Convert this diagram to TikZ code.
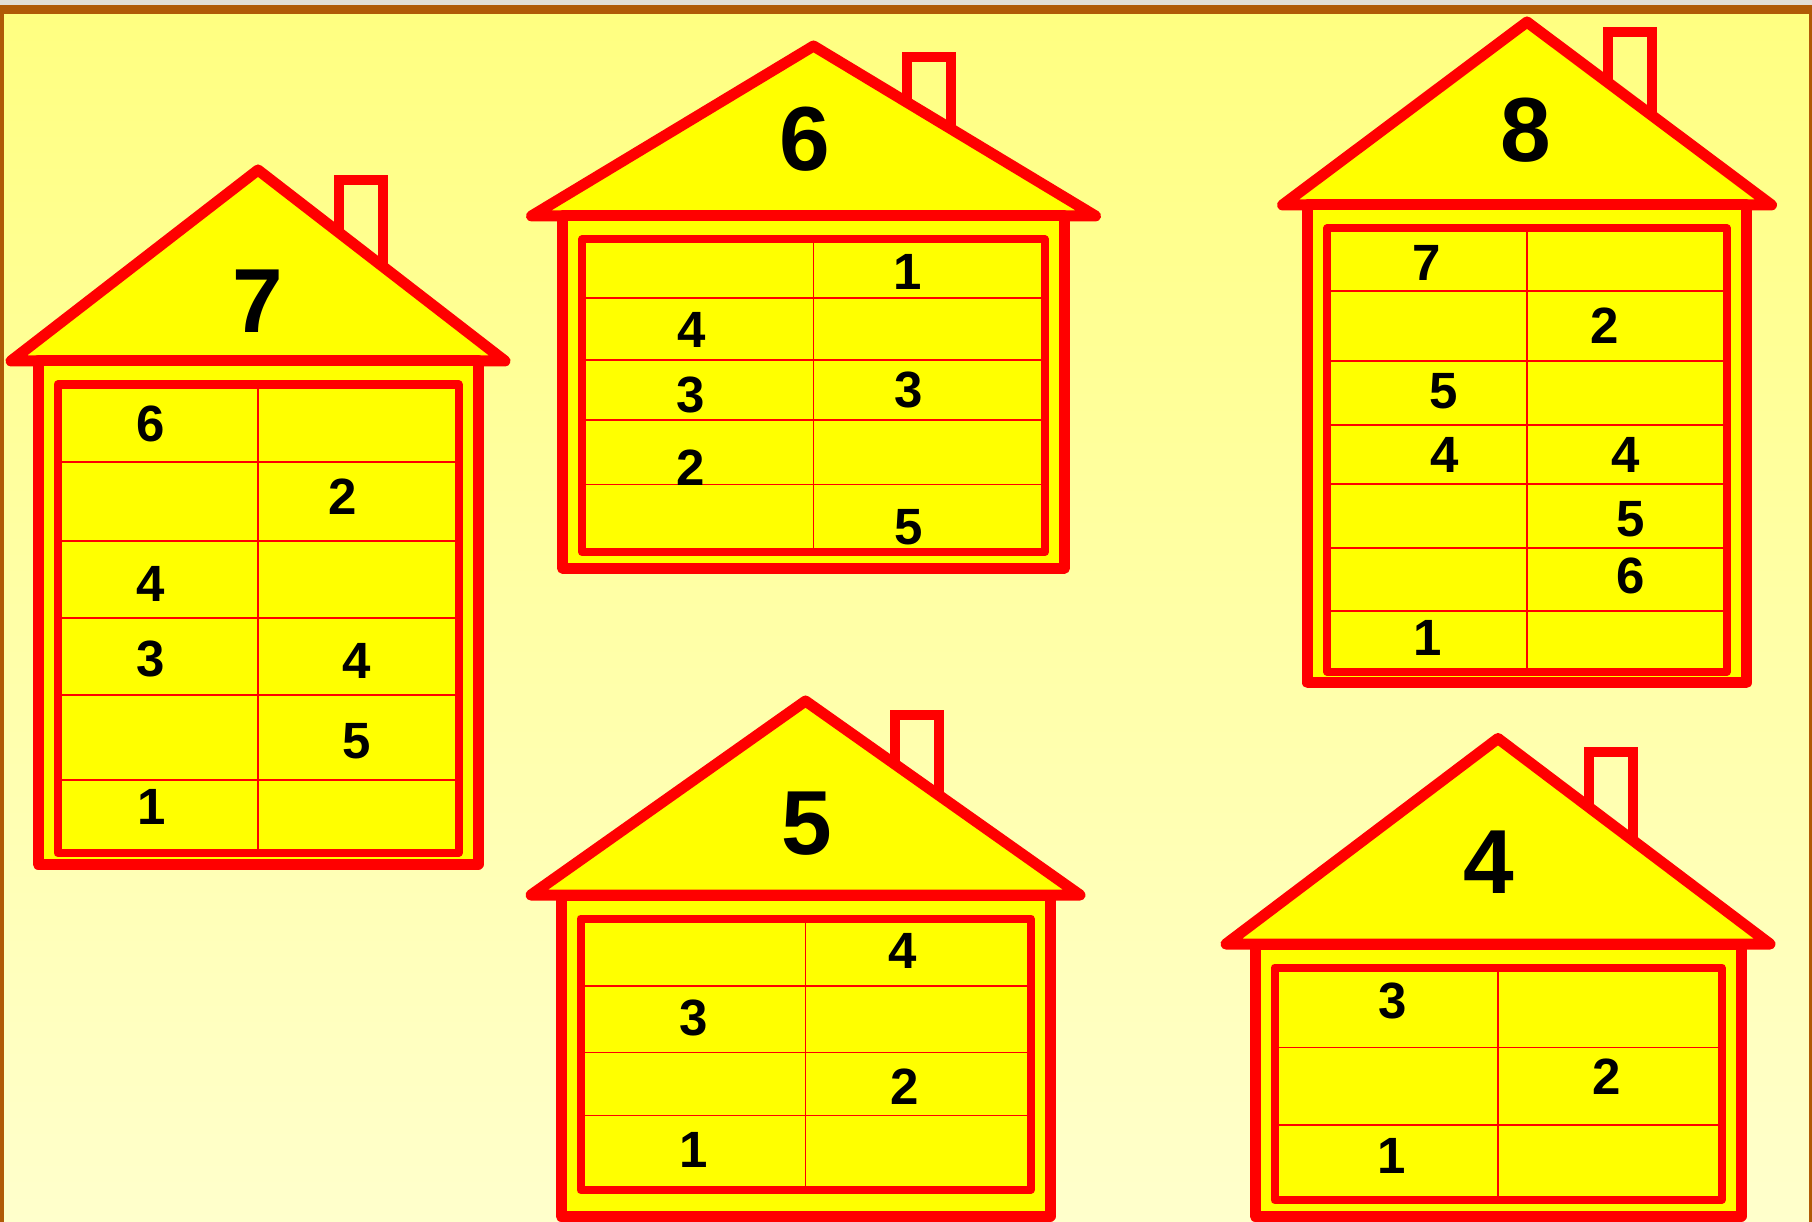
\documentclass[tikz,border=0pt]{standalone}
\usepackage{fontspec}
\setmainfont{Liberation Sans}
\usepackage{xcolor}
\definecolor{bgtop}{HTML}{FFFF80}
\definecolor{bgbottom}{HTML}{FFFFCC}
\definecolor{rim}{HTML}{B05A06}
\definecolor{topgray}{HTML}{E2DDD5}
\definecolor{housered}{HTML}{FF0000}
\definecolor{houseyellow}{HTML}{FFFF00}
\tikzset{
  roof/.style     = {draw=housered, fill=houseyellow, line width=11pt, line join=round},
  wall/.style     = {draw=housered, fill=houseyellow, line width=11pt, line join=round},
  housebox/.style = {draw=housered, line width=8pt, line join=round},
  gridline/.style = {draw=housered, line width=1.6pt},
  chimney/.style  = {draw=housered, line width=10pt},
  digit/.style    = {inner sep=0pt, font=\fontsize{51}{60}\selectfont\bfseries},
  bignum/.style   = {inner sep=0pt, font=\fontsize{91}{100}\selectfont\bfseries}
}
% #1 centre x, #2 eave y, #3 half eave, #4 apex y, #5 wall bottom,
% #6 half box, #7 box bottom, #8 chimney left, #9 chimney top
\newcommand{\drawhouse}[9]{%
  \draw[chimney] (#8,#2) -- (#8,#9) -- ({#8+44},#9) -- ({#8+44},#2);
  \draw[roof] ({#1-#3},#2) -- (#1,#4) -- ({#1+#3},#2) -- cycle;
  \draw[wall] ({#1-#6-19.5},#2) rectangle ({#1+#6+19.5},#5);
  \draw[gridline] (#1,{#2+23.5}) -- (#1,#7);
  \draw[housebox] ({#1-#6},{#2+23.5}) rectangle ({#1+#6},#7);
}

\begin{document}
\begin{tikzpicture}[x=1pt, y=-1pt]
\useasboundingbox (0,0) rectangle (1812,1222);
\shade[top color=bgtop, bottom color=bgbottom] (0,0) rectangle (1812,1222);
\fill[topgray] (0,0) rectangle (1812,5);
\fill[rim] (0,5) rectangle (1812,14);
\fill[rim] (0,5) rectangle (4,1222);
\fill[rim] (1809,5) rectangle (1812,1222);
% houses
\drawhouse{258}{361}{247}{170}{864}{200.5}{853}{339}{180}
\drawhouse{813.5}{216}{282}{46}{568}{231.5}{552}{907}{57}
\drawhouse{1527}{205}{244.5}{22}{682.7}{200}{671.7}{1608}{32}
\drawhouse{805.5}{895}{274.5}{701}{1216}{225}{1190}{895}{714.5}
\drawhouse{1498}{944}{272}{738.5}{1216}{223.5}{1200}{1589}{752}
\foreach \y in {462,541,618,695,780} \draw[gridline] (57.5,\y) -- (458.5,\y);
\foreach \y in {298,360,420,484.5} \draw[gridline] (582,\y) -- (1045,\y);
\foreach \y in {291,361,425,484,548,611} \draw[gridline] (1327,\y) -- (1727,\y);
\foreach \y in {986,1052.5,1115.5} \draw[gridline] (580.5,\y) -- (1030.5,\y);
\foreach \y in {1047.5,1125} \draw[gridline] (1274.5,\y) -- (1721.5,\y);
% house numbers
\node[bignum] (n7) at (258,301) {7};
\node[bignum] (n6) at (805,139.5) {6};
\node[bignum] (n8) at (1526,130) {8};
\node[bignum] (n5) at (806.5,824) {5};
\node[bignum] (n4) at (1489,862) {4};
% splits
\foreach \nm/\x/\y/\d in {%
  a1/151/424/6, a2/343/497/2, a3/151/584/4, a4/151/659/3, a5/357/661/4,
  a6/357/741/5, a7/152/807/1,
  b1/908/272/1, b2/692/330/4, b3/691/395/3, b4/909/390/3, b5/691/468/2,
  b6/909/527/5,
  c1/1427/263/7, c2/1605/326/2, c3/1444/391/5, c4/1445/455/4, c5/1626/455/4,
  c6/1631/519/5, c7/1631/576/6, c8/1428/638/1,
  d1/903/951/4, d2/694/1018/3, d3/905/1087/2, d4/694/1150/1,
  e1/1393/1001/3, e2/1607/1077/2, e3/1392/1156/1}
  \node[digit] (\nm) at (\x,\y) {\d};
\end{tikzpicture}
\end{document}
